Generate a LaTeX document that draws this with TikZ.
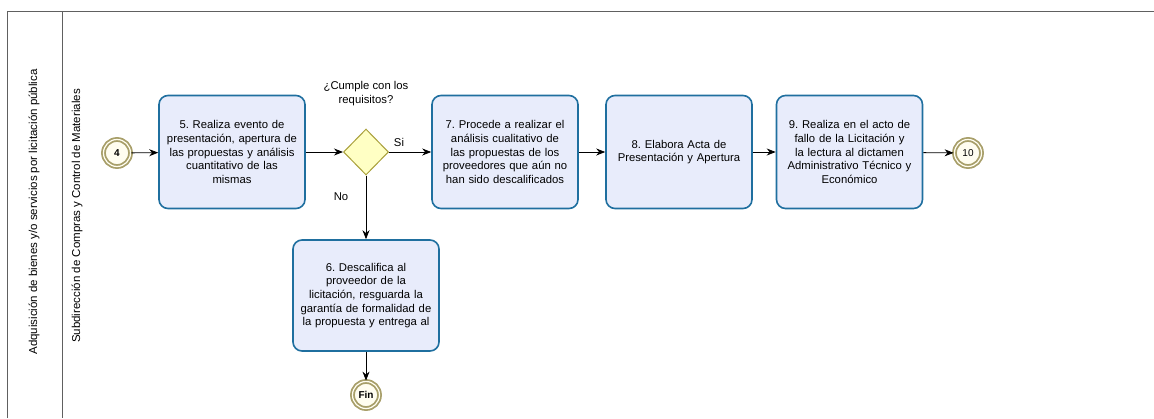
\documentclass[tikz,border=0pt]{standalone}
\usepackage{fontspec}
\setmainfont{Liberation Sans}
\usetikzlibrary{arrows.meta,shapes.geometric}
\definecolor{taskfill}{HTML}{E8ECFB}
\definecolor{taskdraw}{HTML}{1F6F9F}
\definecolor{evring}{HTML}{A89F6A}
\definecolor{evfill}{HTML}{FFFDF0}
\definecolor{gwfill}{HTML}{FFFFC4}
\definecolor{gwdraw}{HTML}{A89F3A}
\definecolor{frame}{HTML}{606060}
\tikzset{
  task/.style={draw=taskdraw, fill=taskfill, line width=1.6pt, rounded corners=9pt,
    minimum width=146pt, minimum height=113pt, align=center, text width=142pt,
    font=\fontsize{11.3}{13.7}\selectfont, inner sep=0pt},
  event/.style={circle, draw=evring, fill=evfill, line width=1.8pt, minimum size=27pt,
    double=evfill, double distance=1.2pt, inner sep=0pt, font=\fontsize{10}{11}\selectfont},
  gateway/.style={diamond, draw=gwdraw, fill=gwfill, line width=1pt, minimum width=45pt,
    minimum height=46pt, inner sep=0pt},
  flow/.style={draw=black, line width=0.8pt, -{Stealth[length=9pt,width=7pt]}},
  lbl/.style={font=\fontsize{11.3}{14}\selectfont, align=center, inner sep=0pt},
  lanelbl/.style={font=\fontsize{11.5}{13}\selectfont, rotate=90, inner sep=0pt}
}
\begin{document}
\frenchspacing
\begin{tikzpicture}[x=1pt,y=-1pt]
\useasboundingbox (0,0) rectangle (1154,418);
% frame
\draw[frame, line width=1pt] (7,418) -- (7,11) -- (1154,11);
\draw[frame, line width=1pt] (62,11) -- (62,418);
\node[lanelbl] (pool) at (34,212) {Adquisición de bienes y/o servicios por licitación pública};
\node[lanelbl] (lane) at (77,216) {Subdirección de Compras y Control de Materiales};
% nodes
\node[event] (e4) at (117,153) {\textbf{4}};
\node[task] (t5) at (232,152) {5. Realiza evento de\\presentación, apertura de\\las propuestas y análisis\\cuantitativo de las\\mismas};
\node[gateway] (gw) at (366,152) {};
\node[lbl] (q) at (366,94) {¿Cumple con los\\requisitos?};
\node[lbl] (si) at (399,142) {Si};
\node[lbl] (no) at (341,197) {No};
\node[task] (t7) at (505,152) {7. Procede a realizar el\\análisis cualitativo de\\las propuestas de los\\proveedores que aún no\\han sido descalificados};
\node[task] (t8) at (679,152) {8. Elabora Acta de\\Presentación y Apertura};
\node[task] (t9) at (849.5,152) {9. Realiza en el acto de\\fallo de la Licitación y\\la lectura al dictamen\\Administrativo Técnico y\\Económico};
\node[event] (e10) at (968,153) {10};
\node[task, minimum height=111pt] (t6) at (366,295.5) {6. Descalifica al\\proveedor de la\\licitación, resguarda la\\garantía de formalidad de\\la propuesta y entrega al};
\node[event] (fin) at (366,395) {\textbf{Fin}};
% flows
\draw[flow] (e4) -- (t5);
\draw[flow] (t5) -- (gw);
\draw[flow] (gw) -- (t7);
\draw[flow] (t7) -- (t8);
\draw[flow] (t8) -- (t9);
\draw[flow] (t9) -- (e10);
\draw[flow] (gw) -- (t6);
\draw[flow] (t6) -- (fin);
\end{tikzpicture}
\end{document}
